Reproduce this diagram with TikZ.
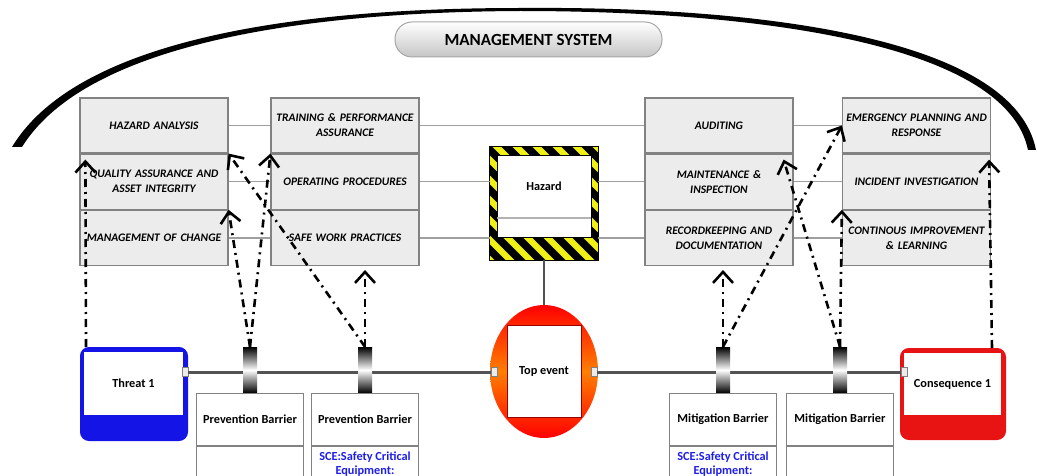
\documentclass[tikz,border=0pt]{standalone}
\usepackage{fontspec}
\setsansfont{Carlito}
\usetikzlibrary{positioning, calc, shapes.geometric, arrows.meta}
\definecolor{boxgray}{RGB}{236, 236, 236}
\definecolor{edgegray}{RGB}{130, 130, 130}
\definecolor{threatblue}{RGB}{20, 20, 230}
\definecolor{consred}{RGB}{232, 20, 20}
\definecolor{sceblue}{RGB}{30, 30, 235}
\definecolor{hazyellow}{RGB}{240, 240, 20}
\tikzset{
    msbox/.style={
        draw=edgegray, fill=boxgray, line width=1.2pt, minimum width=148pt, minimum height=55pt,
        inner sep=1pt, text width=146pt, align=center,
        font=\sffamily\bfseries\itshape\fontsize{11.5}{15}\selectfont
    },
    rowline/.style={
        draw=gray!75, line width=1.5pt
    },
    mainline/.style={
        draw=gray!65!black, line width=3pt
    },
    barrier/.style={
        minimum width=14pt, minimum height=46pt, inner sep=0pt,
        top color=black, bottom color=black, middle color=white
    },
    barbox/.style={
        draw=edgegray, fill=white, line width=1pt, minimum width=107pt, minimum height=52pt,
        inner sep=0pt, font=\sffamily\bfseries\fontsize{12.3}{14}\selectfont
    },
    scebox/.style={
        barbox, minimum height=34pt, text=sceblue, align=center
    },
    port/.style={
        draw=gray, fill=gray!15, minimum width=6pt, minimum height=9pt, inner sep=0pt, line width=.6pt
    },
    evtext/.style={
        font=\sffamily\bfseries\fontsize{12.3}{14}\selectfont
    },
    ctrl/.style={
        draw=black, line width=2.6pt, dash pattern=on 8pt off 5pt on 2pt off 5pt,
        -{Straight Barb[length=11pt, width=20pt]}
    }
}

\begin{document}
\begin{tikzpicture}[x=1pt, y=-1pt]
    \useasboundingbox (0,0) rectangle (1037,476);
    \clip (0,0) rectangle (1037,476);

    % ======================================
    % MANAGEMENT SYSTEM (arc + title)
    % ======================================
    \fill (12,147) .. controls (78,38) and (300,8) .. (520,8)
        .. controls (762,6) and (1014,38) .. (1036,150) -- (1028,150)
        .. controls (1006,44) and (760,11) .. (520,11)
        .. controls (302,12) and (86,44) .. (22,147) -- cycle;

    \node[draw=gray!70, line width=1pt, rounded corners=17pt, top color=white, bottom color=gray!45,
          minimum width=267pt, minimum height=35pt,
          font=\sffamily\bfseries\fontsize{17}{18}\selectfont] (ms) at (528.5,39.5) {MANAGEMENT SYSTEM};

    % ======================================
    % ELEMENT BOXES
    % ======================================
    \node[msbox] (ha) at (154,125.5) {HAZARD ANALYSIS};
    \node[msbox, below=0pt of ha] (qa) {QUALITY ASSURANCE AND\\ASSET INTEGRITY};
    \node[msbox, below=0pt of qa] (moc) {MANAGEMENT OF CHANGE};

    \node[msbox] (tpa) at (345,125.5) {TRAINING \& PERFORMANCE\\ASSURANCE};
    \node[msbox, below=0pt of tpa] (op) {OPERATING PROCEDURES};
    \node[msbox, below=0pt of op] (swp) {SAFE WORK PRACTICES};

    \node[msbox] (aud) at (719,125.5) {AUDITING};
    \node[msbox, below=0pt of aud] (mnt) {MAINTENANCE \&\\INSPECTION};
    \node[msbox, below=0pt of mnt] (rec) {RECORDKEEPING AND\\DOCUMENTATION};

    \node[msbox] (emg) at (916.5,125.5) {EMERGENCY PLANNING AND\\RESPONSE};
    \node[msbox, below=0pt of emg] (inc) {INCIDENT INVESTIGATION};
    \node[msbox, below=0pt of inc] (cip) {CONTINOUS IMPROVEMENT\\\& LEARNING};

    % ======================================
    % HAZARD
    % ======================================
    \node[minimum width=108pt, minimum height=113pt, inner sep=0pt] (hz) at (544,203.5) {};
    \begin{scope}[even odd rule]
        \clip (hz.north west) rectangle (hz.south east) (497,155) rectangle (591,237);
        \fill[hazyellow] (hz.north west) rectangle (hz.south east);
        \foreach \k in {-1,...,12}
            \draw[black, line width=7.5pt] (380+\k*20,140) -- ++(130,130);
    \end{scope}
    \draw[black, line width=1pt] (hz.north west) rectangle (hz.south east);
    \draw[black, line width=.8pt] (497,155) rectangle (591,237);
    \draw[gray!60, line width=1.2pt] (497,218) -- (591,218);
    \node[evtext] (hzt) at (544,186) {Hazard};

    % lines between the rows
    \draw[rowline] (ha.east) -- (tpa.west);
    \draw[rowline] (tpa.east) -- (aud.west);
    \draw[rowline] (aud.east) -- (emg.west);
    \draw[rowline] (qa.east) -- (op.west);
    \draw[rowline] (op.east) -- (op.east -| hz.west);
    \draw[rowline] (hz.east |- mnt.west) -- (mnt.west);
    \draw[rowline] (mnt.east) -- (inc.west);
    \draw[rowline] (moc.east) -- (swp.west);
    \draw[rowline] (swp.east) -- (swp.east -| hz.west);
    \draw[rowline] (hz.east |- rec.west) -- (rec.west);
    \draw[rowline] (rec.east) -- (cip.west);

    % ======================================
    % TOP EVENT, THREAT, CONSEQUENCE
    % ======================================
    \node[ellipse, minimum width=108pt, minimum height=133pt, inner sep=0pt,
          top color=red, bottom color=red, middle color=orange] (top) at (544,371.5) {};
    \node[draw=red!60!black, fill=white, line width=.8pt, minimum width=74pt, minimum height=92pt,
          evtext] (topin) at (top.center) {Top event};
    \draw[mainline, line width=2.5pt] (hz.south) -- (top.north);

    \node[draw=threatblue, fill=threatblue, line width=2pt, rounded corners=8pt,
          minimum width=106pt, minimum height=92pt] (thr) at (134,394) {};
    \node[fill=white, minimum width=99pt, minimum height=63pt, inner sep=0pt, evtext] (thrin) at (133.5,383.5) {Threat 1};

    \node[draw=consred, fill=consred, line width=2pt, rounded corners=8pt,
          minimum width=104pt, minimum height=90pt] (cons) at (953,394) {};
    \node[fill=white, minimum width=97pt, minimum height=62pt, inner sep=0pt, evtext] (consin) at (952.5,384) {Consequence 1};

    \node[port] (pt1) at (185,372) {};
    \node[port] (pt2) at (494,372) {};
    \node[port] (pt3) at (594,372) {};
    \node[port] (pt4) at (904,372) {};
    \draw[mainline] (pt1) -- (pt2);
    \draw[mainline] (pt3) -- (pt4);

    % ======================================
    % BARRIERS
    % ======================================
    \node[barrier] (b1) at (250,370) {};
    \node[barrier] (b2) at (365,370) {};
    \node[barrier] (b3) at (723,370) {};
    \node[barrier] (b4) at (840,370) {};

    \node[barbox, below=0pt of b1] (pb1) {Prevention Barrier};
    \node[scebox, below=0pt of pb1] (pb1s) {};
    \node[barbox, below=0pt of b2] (pb2) {Prevention Barrier};
    \node[scebox, below=0pt of pb2] (pb2s) {SCE:Safety Critical\\Equipment:};
    \node[barbox, below=0pt of b3] (mb1) {Mitigation Barrier};
    \node[scebox, below=0pt of mb1] (mb1s) {SCE:Safety Critical\\Equipment:};
    \node[barbox, below=0pt of b4] (mb2) {Mitigation Barrier};
    \node[scebox, below=0pt of mb2] (mb2s) {};

    % ======================================
    % CONTROL LINKS
    % ======================================
    \draw[ctrl] ([xshift=6pt]thr.north west) -- ([xshift=6pt,yshift=-6pt]qa.north west);
    \draw[ctrl] (b1.north) -- (moc.north east);
    \draw[ctrl] (b1.north) -- (op.north west);
    \draw[ctrl] (b2.north) -- (qa.north east);
    \draw[ctrl] (b2.north) -- ([yshift=-4pt]b2.north |- swp.south);
    \draw[ctrl] (b3.north) -- ([yshift=-4pt]b3.north |- rec.south);
    \draw[ctrl] (b3.north) -- (emg.west);
    \draw[ctrl] (b4.north) -- ([xshift=-10pt,yshift=-6pt]mnt.north east);
    \draw[ctrl] (b4.north) -- (cip.north west);
    \draw[ctrl] ([xshift=-14pt]cons.north east) -- ([xshift=-2pt,yshift=-6pt]inc.north east);
\end{tikzpicture}
\end{document}
